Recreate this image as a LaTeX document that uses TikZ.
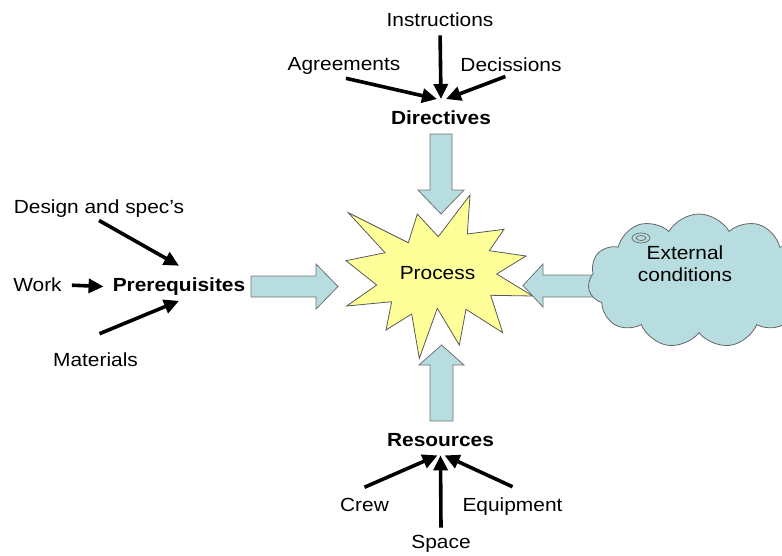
\documentclass[tikz,border=0pt]{standalone}
\usepackage{fontspec}
\setmainfont{Liberation Sans}[FakeStretch=1.1]
\usetikzlibrary{arrows.meta,shapes.symbols}
\definecolor{arrowblue}{RGB}{183,221,224}
\definecolor{burst}{RGB}{255,255,153}

\begin{document}
\begin{tikzpicture}[x=1pt,y=-1pt,
        lbl/.style={anchor=base,inner sep=3pt,font=\fontsize{19}{22}\selectfont},
        arr/.style={line width=3.6pt,-{Triangle[length=15pt,width=14pt]}},
        blockarrow/.style={fill=arrowblue,draw=black!55,line width=0.8pt}]
        \clip (0,0) rectangle (782,555);
        \draw[fill=burst,draw=black!65,line width=0.8pt] (348.3,212.7) -- (408.3,242.7) -- (417.3,214) -- (438.3,236.7) -- (470,195) -- (467.3,234) -- (504,229.3) -- (489.3,250.7) -- (526,256) -- (496.7,274) -- (532.7,296) -- (490.7,295.3) -- (502.7,332.7) -- (466,309.3) -- (459.3,345) -- (437.3,308.3) -- (419.3,358.3) -- (411.7,314) -- (386,330) -- (391.7,301.7) -- (346.7,306) -- (376.7,285) -- (346,260.7) -- (385,252.7) -- cycle;
        \draw[blockarrow] (430,134) -- (452,134) -- (452,190) -- (464,190) -- (441,214) -- (418,190) -- (430,190) -- cycle;
        \draw[blockarrow] (430,421) -- (453,421) -- (453,365) -- (464,365) -- (441.5,345) -- (419,365) -- (430,365) -- cycle;
        \draw[blockarrow] (251,276) -- (316,276) -- (316,264) -- (338,286.5) -- (316,309) -- (316,297) -- (251,297) -- cycle;
        \draw[blockarrow] (610,275) -- (543,275) -- (543,264) -- (523,285.5) -- (543,307) -- (543,297) -- (610,297) -- cycle;
        \node[cloud,cloud puffs=11,cloud puff arc=120,aspect=1.7,minimum width=222pt,minimum height=134pt,inner sep=0pt,fill=arrowblue,draw=black!60,line width=0.8pt] (extcloud) at (699,281) {};
        \draw[draw=black!60,fill=arrowblue,line width=0.7pt] (641,238) ellipse [x radius=9, y radius=5];
        \draw[draw=black!60,line width=0.7pt] (641,238) ellipse [x radius=5, y radius=2.5];
        \node[font=\fontsize{19}{22}\selectfont] (process) at (437.5,273) {Process};
        \node[font=\fontsize{19}{21.7}\selectfont,align=center] (extcond) at (685,264) {External\\conditions};
        \foreach \name/\x/\y/\labeltext in {instr/440/26/Instructions, agree/344/70.7/Agreements, decis/511/71/Decissions, design/99/213.3/Design and spec's, work/37.5/291.7/Work, mater/95.5/366.7/Materials, crew/364.5/511.7/Crew, equip/512.5/511.7/Equipment, space/441/548/Space} {
            \node[lbl] (\name) at (\x,\y) {\labeltext};
        }
        \foreach \name/\x/\y/\labeltext in {direct/441/124/Directives, prereq/179/291.7/Prerequisites, resour/440.5/446/Resources} {
            \node[lbl,font=\fontsize{19}{22}\selectfont\bfseries] (\name) at (\x,\y) {\labeltext};
        }
        \foreach \from/\dx/\gap in {agree/-4/2, instr/0/6, decis/5/6} {
            \draw[arr,shorten <=\gap pt] (\from.south) -- ([xshift=\dx pt,yshift=8pt]direct.north);
        }
        \draw[arr] (design.south) -- ([yshift=9pt]prereq.north);
        \draw[arr] ([xshift=4pt,yshift=16pt]mater.north) -- ([yshift=-2pt]prereq.south);
        \draw[arr,shorten <=7pt,shorten >=6pt] (work.east) -- (prereq.west);
        \foreach \from/\dx/\gap in {crew/-3/8, space/0/4, equip/4/8} {
            \draw[arr] ([yshift=\gap pt]\from.north) -- ([xshift=\dx pt,yshift=-6pt]resour.south);
        }
    \end{tikzpicture}
\end{document}
